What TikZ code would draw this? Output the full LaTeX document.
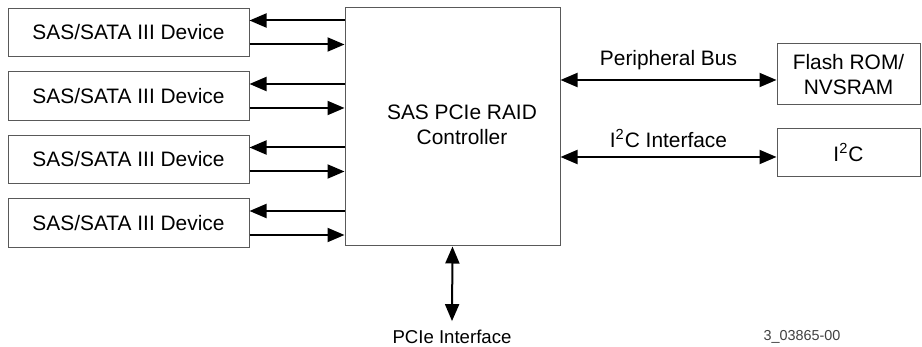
\documentclass[tikz,border=0pt]{standalone}
\usepackage{fontspec}
\setmainfont{Liberation Sans}
\usetikzlibrary{arrows.meta,positioning}

\tikzset{
  box/.style={draw=black!65, line width=0.5pt, inner sep=0pt, align=center},
  arr/.style={line width=1pt, -{Triangle[length=8.5pt,width=7pt]}},
  dbl/.style={line width=1pt, {Triangle[length=8.5pt,width=7pt]}-{Triangle[length=8.5pt,width=7pt]}}
}

\begin{document}
\begin{tikzpicture}[x=0.5pt,y=-0.5pt,font=\fontsize{10.45}{12.5}\selectfont]
  \useasboundingbox (0,0) rectangle (922,347);

  \node[box, minimum width=107.5pt, minimum height=119pt] (ctrl) at (452.5,127) {};
  \node[align=center] (ctrltext) at (462,125) {SAS PCIe RAID\\Controller};

  % devices
  \foreach \i/\y in {1/32.5, 2/96, 3/159.5, 4/223} {
    \node[box, minimum width=120.5pt, minimum height=24.25pt] (dev\i) at (128.5,\y) {SAS/SATA III Device};
    \draw[arr] ([yshift=6pt]dev\i.east -| ctrl.west) -- ([yshift=6pt]dev\i.east);
    \draw[arr] ([yshift=-6pt]dev\i.east) -- ([yshift=-6pt]dev\i.east -| ctrl.west);
  }

  \node[box, minimum width=71.5pt, minimum height=30.5pt] (flash) at (848.5,74.5) {Flash ROM/\\NVSRAM};
  \node[box, minimum width=71.5pt, minimum height=24.25pt] (iic) at (848.5,152.5) {I\textsuperscript{2}C};

  \draw[dbl] ([yshift=-2.75pt]flash.west -| ctrl.east) -- ([yshift=-2.75pt]flash.west)
    node[midway, above=1pt] (pbus) {Peripheral Bus};
  \draw[dbl] ([yshift=-2.25pt]iic.west -| ctrl.east) -- ([yshift=-2.25pt]iic.west)
    node[midway, above=1pt] (iicbus) {I\textsuperscript{2}C Interface};

  \node[font=\fontsize{9.3}{11}\selectfont] (pcie) at (452,337) {PCIe Interface};
  \draw[dbl] (ctrl.south) -- ([yshift=1pt]pcie.north);

  \node[font=\fontsize{7.2}{9}\selectfont, text=black!75] (figid) at (802,337) {3\_03865-00};
\end{tikzpicture}
\end{document}
